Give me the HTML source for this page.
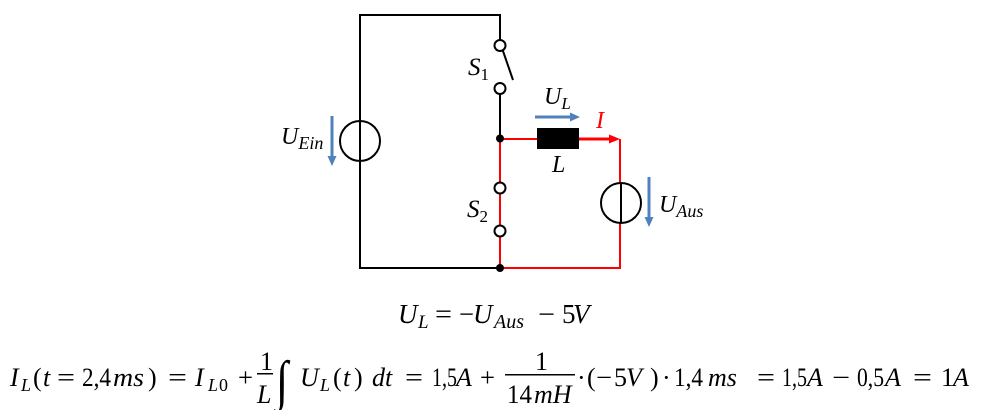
<!DOCTYPE html>
<html><head><meta charset="utf-8"><style>
html,body{margin:0;padding:0;background:#fff;}
svg{display:block;}
text{font-family:"Liberation Serif",serif;fill:#000;}
.i{font-style:italic;}
</style></head><body>
<svg width="991" height="410" viewBox="0 0 991 410" xmlns="http://www.w3.org/2000/svg">
<!-- black wires -->
<g stroke="#000" stroke-width="2" fill="none">
<polyline points="500,40 500,15 360,15 360,268 500,268"/>
<line x1="500" y1="94" x2="500" y2="138"/>
<line x1="503" y1="51" x2="513" y2="80"/>
<circle cx="500" cy="45.5" r="5.5" fill="#fff"/>
<circle cx="500" cy="88.5" r="5.5" fill="#fff"/>
<circle cx="360" cy="141" r="20"/>
</g>
<!-- red wires -->
<g stroke="#ff0000" stroke-width="2" fill="none">
<line x1="500" y1="138" x2="500" y2="268"/>
<line x1="500" y1="139" x2="537" y2="139"/>
<polyline points="620,139 620,268 500,268"/>
</g>
<line x1="579" y1="139" x2="611" y2="139" stroke="#ff0000" stroke-width="3"/>
<polygon points="609,134.5 620,139 609,143.5" fill="#ff0000"/>
<!-- S2 circles + right source -->
<g stroke="#000" stroke-width="2" fill="#fff">
<circle cx="500" cy="188" r="5.5"/>
<circle cx="500" cy="231" r="5.5"/>
<circle cx="621" cy="203" r="20"/>
</g>
<line x1="621" y1="183" x2="621" y2="223" stroke="#000" stroke-width="2"/>
<!-- inductor -->
<rect x="537" y="128" width="42" height="21" fill="#000"/>
<!-- dots -->
<circle cx="500" cy="138.5" r="4" fill="#000"/>
<circle cx="500" cy="268" r="4" fill="#000"/>
<!-- blue arrows -->
<g fill="#4f81bd">
<rect x="330.5" y="116" width="3" height="42"/>
<polygon points="327.5,156 336.5,156 332,166"/>
<rect x="647.5" y="177" width="3" height="42"/>
<polygon points="644.5,217 653.5,217 649,227"/>
<rect x="535" y="115.5" width="37" height="3"/>
<polygon points="570,112.5 580,117 570,121.5"/>
</g>
<!-- labels -->
<text x="468" y="75" font-size="25" class="i">S<tspan font-size="17" dy="5" font-style="normal">1</tspan></text>
<text x="467" y="217" font-size="25" class="i">S<tspan font-size="17" dy="5" font-style="normal">2</tspan></text>
<text x="281" y="144" font-size="24" class="i">U<tspan font-size="18" dy="5">Ein</tspan></text>
<text x="659" y="212" font-size="24" class="i">U<tspan font-size="18" dy="5">Aus</tspan></text>
<text x="544" y="104" font-size="24" class="i">U<tspan font-size="17" dy="5">L</tspan></text>
<text x="596" y="128" font-size="24" class="i" style="fill:#ff0000">I</text>
<text x="552" y="172" font-size="24" class="i">L</text>

<!-- equation 1 -->
<g font-size="27">
<text x="398" y="323" class="i">U</text>
<text x="418" y="328" font-size="19" class="i">L</text>
<text x="435" y="323" textLength="17" lengthAdjust="spacingAndGlyphs">=</text>
<text x="459" y="323" textLength="15" lengthAdjust="spacingAndGlyphs">−</text>
<text x="473" y="323" class="i">U</text>
<text x="494" y="328" font-size="20" class="i">Aus</text>
<text x="538" y="323" textLength="17" lengthAdjust="spacingAndGlyphs">−</text>
<text x="562" y="323">5</text>
<text x="573" y="323" class="i">V</text>
</g>

<!-- equation 2 -->
<g font-size="26">
<text x="10" y="386" class="i">I</text>
<text x="21" y="391" font-size="18" class="i">L</text>
<text x="33" y="386">(</text>
<text x="43" y="386" class="i">t</text>
<text x="57" y="386" textLength="18" lengthAdjust="spacingAndGlyphs">=</text>
<text x="82" y="386" textLength="29" lengthAdjust="spacingAndGlyphs">2,4</text>
<text x="113" y="386" class="i" textLength="31" lengthAdjust="spacingAndGlyphs">ms</text>
<text x="148" y="386">)</text>
<text x="168" y="386" textLength="19" lengthAdjust="spacingAndGlyphs">=</text>
<text x="195" y="386" class="i">I</text>
<text x="208" y="391" font-size="18" class="i">L</text>
<text x="219" y="391" font-size="18">0</text>
<text x="238" y="386" textLength="15" lengthAdjust="spacingAndGlyphs">+</text>
<text x="260" y="370">1</text>
<rect x="257" y="373" width="16" height="1.5" fill="#000"/>
<text x="257" y="403" class="i">L</text>
<text x="276" y="399" font-size="44" transform="translate(276,399) scale(1,1.25) translate(-276,-399)">∫</text>
<text x="300" y="386" class="i">U</text>
<text x="320" y="391" font-size="18" class="i">L</text>
<text x="333" y="386">(</text>
<text x="343" y="386" class="i">t</text>
<text x="354" y="386">)</text>
<text x="372" y="386" class="i">dt</text>
<text x="405" y="386" textLength="18" lengthAdjust="spacingAndGlyphs">=</text>
<text x="432" y="386" textLength="25" lengthAdjust="spacingAndGlyphs">1,5</text>
<text x="456" y="386" class="i">A</text>
<text x="480" y="386" textLength="15" lengthAdjust="spacingAndGlyphs">+</text>
<text x="535" y="370">1</text>
<rect x="505" y="374" width="70" height="1.5" fill="#000"/>
<text x="507" y="403" textLength="25" lengthAdjust="spacingAndGlyphs">14</text>
<text x="534" y="403" class="i">mH</text>
<text x="577" y="386">·</text>
<text x="587" y="386">(</text>
<text x="596" y="386" textLength="16" lengthAdjust="spacingAndGlyphs">−</text>
<text x="614" y="386">5</text>
<text x="626" y="386" class="i">V</text>
<text x="650" y="386">)</text>
<text x="662" y="386">·</text>
<text x="674" y="386" textLength="29" lengthAdjust="spacingAndGlyphs">1,4</text>
<text x="708" y="386" class="i">ms</text>
<text x="757" y="386" textLength="18" lengthAdjust="spacingAndGlyphs">=</text>
<text x="782" y="386" textLength="25" lengthAdjust="spacingAndGlyphs">1,5</text>
<text x="807" y="386" class="i">A</text>
<text x="832" y="386" textLength="18" lengthAdjust="spacingAndGlyphs">−</text>
<text x="857" y="386" textLength="27" lengthAdjust="spacingAndGlyphs">0,5</text>
<text x="885" y="386" class="i">A</text>
<text x="913" y="386" textLength="19" lengthAdjust="spacingAndGlyphs">=</text>
<text x="941" y="386">1</text>
<text x="953" y="386" class="i">A</text>
</g>
</svg>
</body></html>
